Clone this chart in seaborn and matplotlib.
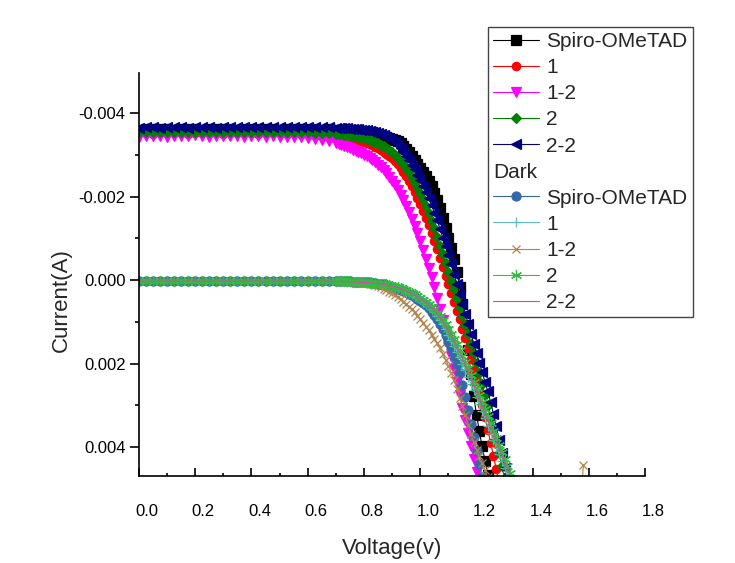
import numpy as np
import seaborn as sns
import matplotlib
matplotlib.use("Agg")
import matplotlib.pyplot as plt
from matplotlib.text import Text
from matplotlib.lines import Line2D
from matplotlib.legend_handler import HandlerBase
from matplotlib.ticker import MultipleLocator, FuncFormatter
from matplotlib.transforms import ScaledTranslation

# voltage sweep (V): 0.025 V steps up to 0.70 V, then 0.01 V steps
v_coarse = np.round(np.arange(0.0, 0.701, 0.025), 3)
v_fine = np.round(np.arange(0.71, 1.335, 0.01), 2)
voltage = np.concatenate([v_coarse, v_fine])

# currents in mA (first 29 values: coarse part)
light_spiro = [-3.61, -3.63, -3.62, -3.62, -3.63, -3.61, -3.62, -3.63, -3.62, -3.61,
               -3.62, -3.63, -3.62, -3.62, -3.61, -3.63, -3.62, -3.62, -3.63, -3.62,
               -3.61, -3.62, -3.62, -3.63, -3.62, -3.62, -3.61, -3.62, -3.61,
               -3.61, -3.60, -3.60, -3.60, -3.59, -3.59, -3.58, -3.58, -3.57, -3.57,
               -3.56, -3.55, -3.54, -3.52, -3.50, -3.48, -3.46, -3.44, -3.41, -3.39,
               -3.36, -3.33, -3.28, -3.22, -3.15, -3.07, -2.98, -2.88, -2.78, -2.69,
               -2.60, -2.50, -2.38, -2.25, -2.10, -1.93, -1.72, -1.49, -1.25, -1.02,
               -0.77, -0.50, -0.19, 0.16, 0.58, 1.08, 1.66, 2.25, 2.78, 3.22,
               3.62, 3.98, 4.33, 4.66]
light_1 = [-3.52, -3.53, -3.51, -3.52, -3.52, -3.53, -3.52, -3.51, -3.52, -3.53,
           -3.52, -3.52, -3.51, -3.52, -3.53, -3.52, -3.52, -3.51, -3.52, -3.52,
           -3.53, -3.51, -3.52, -3.51, -3.50, -3.50, -3.49, -3.48, -3.47,
           -3.46, -3.45, -3.44, -3.43, -3.42, -3.40, -3.38, -3.36, -3.34, -3.32,
           -3.29, -3.26, -3.23, -3.20, -3.16, -3.12, -3.08, -3.03, -2.98, -2.92,
           -2.85, -2.78, -2.70, -2.60, -2.50, -2.38, -2.26, -2.12, -1.98, -1.83,
           -1.67, -1.50, -1.32, -1.13, -0.94, -0.74, -0.53, -0.32, -0.11, 0.10,
           0.31, 0.52, 0.73, 0.94, 1.16, 1.39, 1.63, 1.88, 2.14, 2.41,
           2.69, 2.98, 3.28, 3.58, 3.89, 4.20, 4.52, 4.85]
light_1_2 = [-3.44, -3.45, -3.46, -3.45, -3.44, -3.46, -3.45, -3.45, -3.47, -3.45,
             -3.44, -3.45, -3.46, -3.45, -3.45, -3.44, -3.46, -3.45, -3.44, -3.45,
             -3.44, -3.44, -3.43, -3.42, -3.40, -3.38, -3.36, -3.33, -3.29,
             -3.27, -3.25, -3.22, -3.19, -3.16, -3.13, -3.10, -3.07, -3.04, -3.01,
             -2.97, -2.93, -2.88, -2.83, -2.77, -2.71, -2.64, -2.56, -2.47, -2.38,
             -2.28, -2.17, -2.05, -1.92, -1.78, -1.63, -1.47, -1.30, -1.12, -0.93,
             -0.73, -0.52, -0.30, -0.07, 0.17, 0.42, 0.68, 0.95, 1.23, 1.52,
             1.82, 2.12, 2.43, 2.74, 3.05, 3.36, 3.67, 3.98, 4.29, 4.60]
light_2 = [-3.55, -3.54, -3.56, -3.55, -3.55, -3.54, -3.56, -3.55, -3.54, -3.55,
           -3.56, -3.55, -3.55, -3.54, -3.55, -3.56, -3.55, -3.54, -3.55, -3.55,
           -3.56, -3.54, -3.55, -3.54, -3.54, -3.53, -3.53, -3.52, -3.51,
           -3.50, -3.50, -3.49, -3.48, -3.47, -3.46, -3.45, -3.43, -3.42, -3.40,
           -3.38, -3.36, -3.34, -3.31, -3.28, -3.25, -3.21, -3.17, -3.12, -3.07,
           -3.01, -2.94, -2.86, -2.78, -2.69, -2.59, -2.48, -2.36, -2.23, -2.09,
           -1.94, -1.78, -1.61, -1.43, -1.24, -1.04, -0.83, -0.62, -0.41, -0.20,
           0.01, 0.22, 0.43, 0.64, 0.85, 1.07, 1.29, 1.52, 1.75, 1.99,
           2.23, 2.48, 2.74, 3.00, 3.27, 3.55, 3.84, 4.14, 4.45, 4.77]
light_2_2 = [-3.65, -3.66, -3.67, -3.65, -3.66, -3.66, -3.67, -3.65, -3.66, -3.67,
             -3.66, -3.65, -3.67, -3.66, -3.68, -3.67, -3.66, -3.68, -3.67, -3.68,
             -3.67, -3.66, -3.68, -3.67, -3.66, -3.67, -3.66, -3.66, -3.65,
             -3.65, -3.65, -3.64, -3.64, -3.63, -3.63, -3.62, -3.62, -3.61, -3.60,
             -3.59, -3.58, -3.56, -3.55, -3.53, -3.51, -3.48, -3.44, -3.40, -3.36,
             -3.30, -3.24, -3.16, -3.08, -2.98, -2.88, -2.77, -2.66, -2.53, -2.40,
             -2.26, -2.12, -1.96, -1.80, -1.62, -1.44, -1.23, -1.02, -0.81, -0.60,
             -0.38, -0.15, 0.09, 0.32, 0.56, 0.80, 1.04, 1.28, 1.52, 1.75,
             1.98, 2.20, 2.43, 2.66, 2.92, 3.20, 3.50, 3.82, 4.15, 4.50,
             4.86]

dark_spiro = [0.02, 0.01, 0.03, 0.02, 0.02, 0.01, 0.02, 0.03, 0.02, 0.01,
              0.02, 0.02, 0.03, 0.02, 0.01, 0.02, 0.02, 0.03, 0.02, 0.02,
              0.01, 0.02, 0.03, 0.02, 0.02, 0.02, 0.03, 0.02, 0.03,
              0.03, 0.03, 0.03, 0.03, 0.03, 0.04, 0.04, 0.04, 0.04, 0.04,
              0.05, 0.05, 0.06, 0.07, 0.08, 0.09, 0.10, 0.12, 0.14, 0.16,
              0.18, 0.20, 0.23, 0.26, 0.29, 0.32, 0.36, 0.40, 0.44, 0.49,
              0.54, 0.60, 0.67, 0.75, 0.84, 0.94, 1.05, 1.18, 1.32, 1.47,
              1.63, 1.81, 2.01, 2.23, 2.50, 2.80, 3.12, 3.44, 3.76, 4.08,
              4.40, 4.72]
dark_1 = [0.03, 0.02, 0.02, 0.03, 0.01, 0.02, 0.03, 0.02, 0.02, 0.03,
          0.02, 0.01, 0.02, 0.03, 0.02, 0.02, 0.03, 0.02, 0.01, 0.02,
          0.03, 0.02, 0.02, 0.03, 0.02, 0.03, 0.02, 0.03, 0.03,
          0.03, 0.03, 0.03, 0.04, 0.04, 0.04, 0.04, 0.05, 0.05, 0.05,
          0.06, 0.06, 0.07, 0.07, 0.08, 0.09, 0.10, 0.11, 0.13, 0.15,
          0.17, 0.19, 0.21, 0.24, 0.27, 0.30, 0.33, 0.37, 0.41, 0.46,
          0.51, 0.56, 0.62, 0.69, 0.77, 0.86, 0.96, 1.06, 1.18, 1.30,
          1.43, 1.57, 1.71, 1.85, 2.00, 2.16, 2.32, 2.48, 2.64, 2.80,
          2.97, 3.14, 3.31, 3.48, 3.65, 3.82, 3.99, 4.16, 4.33, 4.50,
          4.68]
dark_1_2 = [0.01, 0.02, 0.02, 0.01, 0.03, 0.02, 0.01, 0.02, 0.02, 0.03,
            0.01, 0.02, 0.02, 0.01, 0.02, 0.03, 0.02, 0.01, 0.02, 0.02,
            0.02, 0.01, 0.02, 0.03, 0.02, 0.02, 0.02, 0.03, 0.03,
            0.03, 0.03, 0.03, 0.04, 0.04, 0.04, 0.05, 0.05, 0.06, 0.06,
            0.07, 0.08, 0.10, 0.12, 0.14, 0.17, 0.20, 0.23, 0.27, 0.31,
            0.36, 0.41, 0.46, 0.52, 0.57, 0.63, 0.70, 0.77, 0.85, 0.93,
            1.02, 1.11, 1.20, 1.30, 1.40, 1.51, 1.63, 1.76, 1.90, 2.05,
            2.22, 2.40, 2.60, 2.81, 3.02, 3.24, 3.46, 3.68, 3.88, 4.06,
            4.22, 4.38, 4.55, 4.72]
# stray reading of the 1-2 dark sweep near 1.58 V
dark_1_2_tail_v = [1.57, 1.58]
dark_1_2_tail = [5.30, 4.43]
dark_2 = [0.02, 0.03, 0.02, 0.02, 0.01, 0.03, 0.02, 0.02, 0.03, 0.02,
          0.02, 0.03, 0.01, 0.02, 0.02, 0.03, 0.02, 0.02, 0.03, 0.01,
          0.02, 0.03, 0.02, 0.02, 0.03, 0.02, 0.02, 0.03, 0.02,
          0.02, 0.03, 0.03, 0.03, 0.03, 0.04, 0.04, 0.04, 0.05, 0.05,
          0.05, 0.06, 0.06, 0.07, 0.08, 0.08, 0.09, 0.10, 0.12, 0.13,
          0.15, 0.17, 0.19, 0.21, 0.24, 0.27, 0.30, 0.34, 0.38, 0.42,
          0.47, 0.52, 0.57, 0.63, 0.70, 0.78, 0.86, 0.95, 1.05, 1.16,
          1.28, 1.40, 1.53, 1.67, 1.81, 1.96, 2.11, 2.27, 2.43, 2.59,
          2.75, 2.92, 3.09, 3.26, 3.43, 3.60, 3.77, 3.94, 4.11, 4.28,
          4.45, 4.62, 4.79]
dark_2_2 = [0.02, 0.02, 0.03, 0.02, 0.02, 0.02, 0.03, 0.02, 0.02, 0.02,
            0.03, 0.02, 0.02, 0.02, 0.03, 0.02, 0.02, 0.02, 0.03, 0.02,
            0.02, 0.02, 0.03, 0.02, 0.02, 0.03, 0.02, 0.02, 0.03,
            0.03, 0.03, 0.03, 0.03, 0.04, 0.04, 0.04, 0.05, 0.05, 0.05,
            0.06, 0.06, 0.07, 0.07, 0.08, 0.09, 0.10, 0.11, 0.13, 0.14,
            0.16, 0.18, 0.20, 0.23, 0.26, 0.29, 0.32, 0.36, 0.40, 0.44,
            0.49, 0.54, 0.60, 0.66, 0.73, 0.81, 0.90, 1.00, 1.10, 1.21,
            1.33, 1.46, 1.59, 1.73, 1.88, 2.03, 2.19, 2.35, 2.51, 2.67,
            2.84, 3.01, 3.18, 3.35, 3.52, 3.69, 3.86, 4.03, 4.20, 4.37,
            4.54, 4.71]

sample_labels = ["Spiro-OMeTAD", "1", "1-2", "2", "2-2"]
x_ticks = [0.0, 0.2, 0.4, 0.6, 0.8, 1.0, 1.2, 1.4, 1.6, 1.8]
y_ticks = [-0.004, -0.002, 0.0, 0.002, 0.004]

sns.set_style("ticks")
plt.rcParams["font.family"] = ["Liberation Sans", "DejaVu Sans"]

fig = plt.figure(figsize=(7.35, 5.63), dpi=100)
ax = fig.add_axes([0.189, 0.1545, 0.689, 0.7155])

light_styles = [("black", "s", 6.5), ("#ff0000", "o", 6.0), ("#ff00ff", "v", 7.5),
                ("#008000", "D", 5.5), ("#000080", "<", 7.5)]
dark_styles = [("#3468a8", "o", 6.5), ("#5fbcc4", "+", 7.5), ("#b3844a", "x", 6.0),
               ("#33bb44", (6, 2, 0), 8.0), ("#e040b0", None, 0)]

light_data = [light_spiro, light_1, light_1_2, light_2, light_2_2]
dark_data = [dark_spiro, dark_1, dark_1_2, dark_2, dark_2_2]


def draw(cur, style, xs=None):
    color, marker, ms = style
    y = np.array(cur) / 1000.0
    x = voltage[:len(y)] if xs is None else xs
    kws = dict(color=color, linewidth=0.8, estimator=None, sort=False, legend=False, ax=ax)
    if marker is not None:
        kws.update(marker=marker, markersize=ms, markeredgecolor=color, markeredgewidth=0.9)
    sns.lineplot(x=x, y=y, **kws)
    return ax.lines[-1]


light_handles = [draw(c, s) for c, s in zip(light_data, light_styles)]
dark_handles = []
for i, (c, s) in enumerate(zip(dark_data, dark_styles)):
    if i == 2:
        xs = np.concatenate([voltage[:len(c)], dark_1_2_tail_v])
        dark_handles.append(draw(list(c) + dark_1_2_tail, s, xs))
    else:
        dark_handles.append(draw(c, s))

ax.set_xlim(0.0, 1.8)
ax.set_ylim(0.00469, -0.00496)
ax.set_xticks(x_ticks)
ax.set_yticks(y_ticks)
ax.xaxis.set_minor_locator(MultipleLocator(0.1))
ax.yaxis.set_minor_locator(MultipleLocator(0.001))
ax.xaxis.set_major_formatter(FuncFormatter(lambda v, p: f"{v:.1f}"))
ax.yaxis.set_major_formatter(FuncFormatter(lambda v, p: "0.000" if abs(v) < 1e-9 else f"{v:.3f}"))

for side in ["top", "right"]:
    ax.spines[side].set_visible(False)
for side in ["left", "bottom"]:
    ax.spines[side].set_color("black")
    ax.spines[side].set_linewidth(1.2)

ax.tick_params(axis="x", which="both", bottom=True, top=False)
ax.tick_params(axis="y", which="both", left=True, right=False)
ax.tick_params(axis="x", which="major", direction="in", length=5.5, width=1.2, pad=20,
               labelsize=12, colors="black")
ax.tick_params(axis="x", which="minor", direction="in", length=2.5, width=1.2, colors="black")
ax.tick_params(axis="y", which="major", direction="out", length=6.5, width=1.2, pad=3,
               labelsize=12, colors="black")
ax.tick_params(axis="y", which="minor", direction="out", length=3, width=1.2, colors="black")

# x tick labels sit a little to the right of their ticks
shift = ScaledTranslation(8 / 100, 0, fig.dpi_scale_trans)
for lab in ax.get_xticklabels():
    lab.set_transform(lab.get_transform() + shift)

ax.set_xlabel("Voltage(v)", fontsize=16, labelpad=14)
ax.set_ylabel("Current(A)", fontsize=16)
ax.yaxis.set_label_coords(-0.132, 0.437)


class HeaderHandler(HandlerBase):
    def legend_artist(self, legend, orig_handle, fontsize, handlebox):
        t = Text(0, 0, "Dark", fontsize=fontsize, ha="left", va="baseline")
        handlebox.add_artist(t)
        return t


header = Line2D([], [], linestyle="none")
handles = light_handles + [header] + dark_handles
labels = sample_labels + [""] + sample_labels
leg = ax.legend(handles, labels, loc="upper left",
                bbox_to_anchor=(488 / 735, 536 / 563), bbox_transform=fig.transFigure,
                borderaxespad=0, fontsize=15, frameon=True, fancybox=False,
                framealpha=1, edgecolor="#444444", handlelength=2.2, handletextpad=0.35,
                labelspacing=0.34, borderpad=0.25, handler_map={header: HeaderHandler()})
leg.get_frame().set_linewidth(1.0)

fig.savefig("out.png", dpi=100)
